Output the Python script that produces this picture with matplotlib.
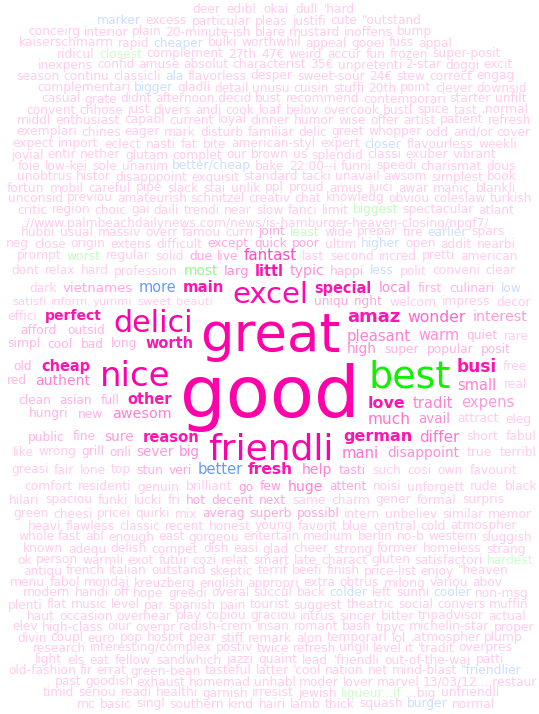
import matplotlib as mpl; mpl.use('Agg'); import matplotlib.pyplot as plt
import matplotlib.colors as mcol
mpl.rcParams['font.family']=['DejaVu Sans']

# words of the cloud, one string per line/segment (read left to right, top to bottom)
ROWS=["deer edibl okai dull 'hard",
 'marker excess particular pleas justifi cute "outstand',
 "conceirg interior plain 20-minute-ish blare mustard inoffens bump",
 "kaiserschmarrn rapid cheaper bulki worthwhil appeal gooei fuss appal",
 "ridicul closest complement 27th 47€ weird accur fun frozen super-posit",
 "inexpens confid amuse absolut characterist 35€ unpretenti 2-star doggi excit",
 "season continu classicli ala flavorless desper sweet-sour 24€ stew correct engag",
 "complementari bigger gladli detail unusu cuisin stuffi 20th point clever downsid",
 "casual grate didnt afternoon.decid bust recommend contemporari starter unfilt",
 "convent chhose just divers andi cook loaf belov overcook bustl spice tast ,normal",
 "middl enthusiast capabl current loyal dinner humor wise offer artist patient refresh",
 "exemplari chines eager mark disturb familiar delic greet whopper odd and/or cover",
 "expect import eclect nasti fat bite american-styl expert closer flavourless weekli",
 "jovial entir nether glutam complet our brown us splendid classi exuber vibrant",
 "foie low-kei sole unanim better/cheap bake 22:00--i funni speedi charismat dous",
 "unobtrus histor disapppoint exquisit standard tacki unavail awsom simplest book",
 "fortun mobil careful pipe slack stai unlik ppl proud amus juici awar manic blankli",
 "unconsid previou amateurish schnitzel creativ chat knowledg obviou coleslaw turkish",
 "critic region choic gai daili trendi near slow fanci limit biggest spectacular atlant",
 "://www.palmbeachdailynews.com/news/is-hamburger-heaven-closing/npgf7/",
 "hubbi usual massiv overr famou curri joint least wide prepar tire earlier spars",
 "neg close origin extens difficult except quick poor ultim higher open addit nearbi",
 "prompt worst regular solid due live fantast last second incred pretti american",
 "dont relax hard profession most larg littl typic happi less polit conveni clear",
 "dark vietnames more main","excel","special local first culinari low",
 "satisfi inform yummi sweet beauti","uniqu right welcom impress decor",
 "effici perfect","delici","amaz wonder interest",
 "afford outsid","pleasant warm quiet rare",
 "simpl cool bad long worth","great","high super popular posit",
 "old cheap","nice","best","busi free",
 "red authent","small real","good",
 "clean asian full other","love tradit expens",
 "hungri new awesom","much avail attract eleg",
 "public fine sure reason","german differ short fabul","friendli",
 "like wrong grill onli sever big","mani disappoint true terribl",
 "greasi fair lone top stun veri better fresh","help tasti such cosi own favourit",
 "comfort residenti genuin brilliant go few huge attent noisi unforgett rude black",
 "hilari spaciou funki lucki fri hot decent next same charm gener formal surpris",
 "green cheesi pricei quirki mix averag superb possibl intern unbeliev similar memor",
 "heavi flawless classic recent honest young favorit blue central cold atmospher",
 "whole fast abl enough east gorgeou entertain medium berlin no-b western sluggish",
 "known adequ delish compet dish easi glad cheer strong former homeless strang",
 "ok person warmli exot futur cozi relat smart late charact gluten satisfactori hardest",
 'antiqu french italian outstand skeptic terrif beefi finish price-list enjoy "heaven',
 "menu fabol mondai kreuzberg english appropri extra obtrus milong variou abov",
 "modern handi off hope greedi overal succul back colder left sunni cooler non-msg",
 "plenti flat music level par spanish pain tourist suggest theatric social convers muffin",
 "haut occasion overhear play copiou graciou intrus sincer bitter tripadvisor actual",
 "elev high-class oiur overpr radish-crem insan romant bash tipyc michelin-star proper",
 "divin coupl euro pop hospit pear stiff remark alon temporari lol ,atmospher plump",
 "research interesting/complex postiv twice refresh ungli level.it 'tradit overpres",
 "light els eat fellow sandwhich jazzi quaint lead 'friendli out-of-the-wai patti",
 'old-fashion fir errat green-bean tasteful latter \'cool nation net mind-blast "friendlier',
 "past goodish exhaust homemad unhabl moder lover marvel 13/03/12....restaur",
 "timid seriou readi healthi garnish irresist jewish liqueur...if ...big unfriendli",
 "mc basic singl southern kind hairi lamb thick squash burger normal"]

# word weight (font px) for the frequent words; everything else is the small size
WEIGHT={'great':53,'good':72,'nice':34,'delici':30,'friendli':36,'best':38,'excel':29,
 'main':15,'special':14.5,'amaz':18,'perfect':14,'worth':14.5,'cheap':14.5,'busi':17,'love':16,
 'german':16,'reason':14.8,'other':14.5,'fresh':15.5,'littl':14.5,'fantast':15,'more':14.5,
 'vietnames':13.4,'local':13.7,'wonder':15.6,'interest':14.3,'pleasant':14.9,'warm':14.6,'high':13.8,
 'small':14.6,'tradit':14.7,'expens':14.7,'much':15.4,'avail':13.5,'differ':15.1,'mani':14.8,
 'disappoint':13.8,'help':14,'huge':14,'awesom':14.4,'authent':14,'sever':13.5,'big':13.5,
 'better':14.7,'sure':13.8,'most':13.6,'larg':13.2,'typic':14.3}
# colour strength (0 white .. 1 full hue)
LEVEL={'great':1,'good':1,'nice':1,'delici':1,'friendli':1,'best':1,'excel':.97,
 'fantast':.7,'wonder':.6,'much':.55,'mani':.55,'differ':.55,'small':.5,'tradit':.5,'pleasant':.5,
 'warm':.45,'help':.5,'huge':.5,'awesom':.5,'authent':.5,'local':.45,'interest':.4,'high':.45,
 'typic':.45,'larg':.45,'disappoint':.45,'avail':.45,'expens':.4,'sure':.4,'sever':.4,'big':.45,
 'vietnames':.35,'uniqu':.35,'right':.35,'due':.35,'live':.35,'joint':.35,'except':.35,'quick':.35,
 'poor':.35,'go':.4,'few':.4,'decent':.35,'hot':.35,'next':.35,'averag':.35,'superb':.35,
 'possibl':.35,'attent':.35,'tasti':.35,'veri':.35,'fine':.3,'public':.3,'first':.3,'culinari':.3,
 'afford':.3,'outsid':.3,'cool':.3,'bad':.3,'long':.3,'simpl':.28,'quiet':.3,'super':.3,
 'popular':.3,'posit':.3,'old':.3,'red':.28,'asian':.3,'full':.3,'clean':.28,'hungri':.3,'new':.3,
 'onli':.28,'grill':.28,'stun':.3,'happi':.28,'more':.6,'better':.6,'most':.45,'worst':.25,
 'least':.25,'biggest':.25}
BOLD={'main','special','amaz','perfect','worth','cheap','busi','love','german','reason','other','fresh','littl'}
for w in BOLD: LEVEL[w]=.92
BLUE={'marker','cheaper','ala','bigger','closer','better/cheap','earlier','higher','less','low',
 'more','better','colder','cooler','"friendlier','burger'}
GREEN={'closest','biggest','least','worst','most','best','hardest','liqueur...if'}

# layout of each row: centre y, left x, right x (None = single word), optional base font px
TOPL=[(9.5,192,355),(21,97,422),(32,28,432),(43,19,452),(54,57,501),(65,38,513),(76,16,515),
 (88,37,527),(99,41,526),(110,26,528),(120,17,531),(132,16,531),(144,12,517),(155,11,496),
 (166,18,516),(177,17,517),(188,7,516),(198,8,532),(210,17,514),(223,23,526),(232,21,505),
 (244,6,516),(256,17,518),(271,11,516)]
MIDL=[(288,29,224),(295,232,None),(288,314,522),(302,12,213,11.5),(302,314,531),(316,7,102),(324,113,None),
 (317,347,528),(331,20,105),(336,347,529),(344,7,193),(336,200,None),(349,347,511),(367,13,90),
 (377,100,None),(378,369,None),(367,457,527),(381,7,90),(385,457,527),(397,180,None),(400,18,172),
 (403,368,514),(414,29,172),(419,368,532),(437,28,199),(437,343,536),(449,208,None),(452,13,200),
 (453,342,537),(470,11,293),(470,302,517),(487,24,537),(500,9,504)]
BOTL=[(514,13,532),(526,28,517),(537,18,532),(549,23,526),(560,17,534),(571,23,509),(583,10,502),
 (593,23,529),(605,8,529),(616,27,526),(627,12,534),(638,17,523),(648,33,512),(660,35,504),
 (671,8,522),(682,55,537),(693,43,499),(704,77,495)]
LAYOUT=TOPL+MIDL+BOTL
BASE_PX=12.3
HUES={'p':'#ff00aa','b':'#0055ff','g':'#10f000'}

def colour(w):
    h=HUES['b'] if w in BLUE else HUES['g'] if w in GREEN else HUES['p']
    l=LEVEL.get(w,.2); r,g,b=mcol.to_rgb(h)
    return (1-(1-r)*l,1-(1-g)*l,1-(1-b)*l)

fig=plt.figure(figsize=(5.39,7.14),dpi=100); ax=fig.add_axes([0,0,1,1])
ax.set_xlim(0,539); ax.set_ylim(714,0); ax.axis('off')
rend=fig.canvas.get_renderer()
for line,lay in zip(ROWS,LAYOUT):
    y,x0,x1=lay[:3]; base=lay[3] if len(lay)>3 else BASE_PX
    ts=[]
    for w in line.split(' '):
        px=WEIGHT.get(w,base)
        ts.append(ax.text(0,y,w,fontsize=px*0.72,color=colour(w),va='center',ha='left',
                          fontweight='bold' if w in BOLD else 'normal'))
    ws=[t.get_window_extent(rend).width for t in ts]
    gap=4 if x1 is None or len(ts)<2 else (x1-x0-sum(ws))/(len(ts)-1)
    x=x0
    for t,wd in zip(ts,ws):
        t.set_x(x); x+=wd+gap
fig.savefig('out.png',dpi=100,facecolor='white')
